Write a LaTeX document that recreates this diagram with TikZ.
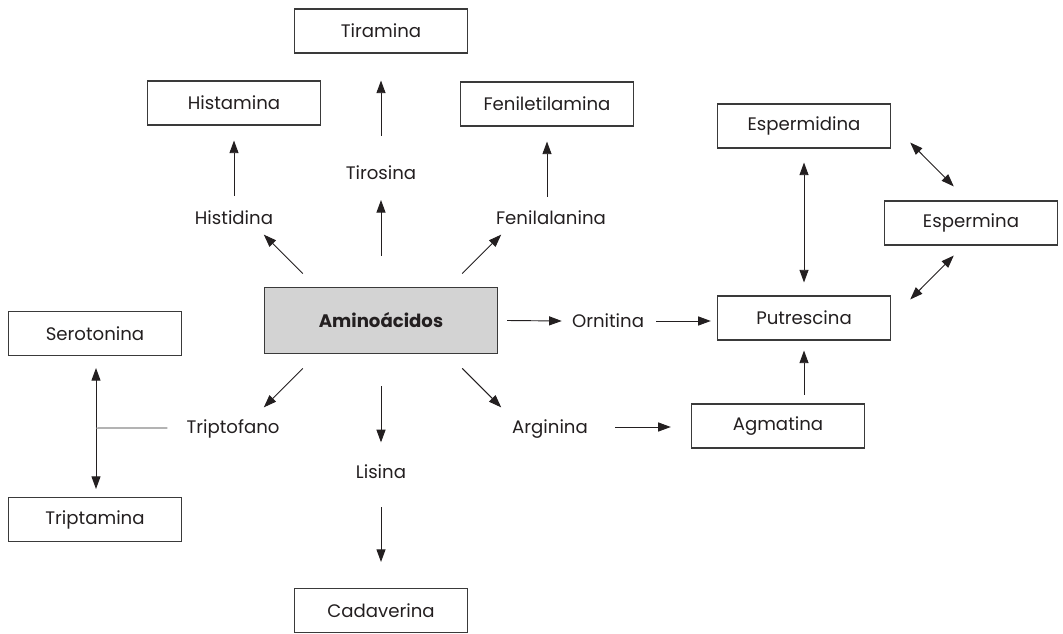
\documentclass[tikz,border=0pt]{standalone}
\usepackage{fontspec}
\setmainfont{Poppins}
\usetikzlibrary{arrows.meta,calc}
\definecolor{ink}{HTML}{231F20}
\definecolor{frame}{HTML}{3A3A3A}
\definecolor{boxgray}{HTML}{D3D3D3}
\definecolor{linegray}{HTML}{8A8A8A}
\begin{document}
\begin{tikzpicture}[x=0.75pt,y=-0.75pt,
  every node/.style={text=ink, font=\fontsize{13.6}{16}\selectfont},
  box/.style={draw=frame, line width=0.8pt, minimum width=130pt, minimum height=33pt, inner sep=0pt},
  mainbox/.style={box, fill=boxgray, minimum width=175pt, minimum height=50pt},
  lbl/.style={inner sep=0pt, text height=9.6pt, text depth=0pt},
  arr/.style={-{Triangle[length=9.5pt,width=6.8pt]}, line width=0.7pt, draw=ink},
  darr/.style={{Triangle[length=9.5pt,width=6.8pt]}-{Triangle[length=9.5pt,width=6.8pt]}, line width=0.7pt, draw=ink}]
\useasboundingbox (0,0) rectangle (1063,634);

% central node
\node[mainbox] (amino) at (381,320.5) {\bfseries Aminoácidos};

% end products
\node[box] (tiramina) at (381,31) {Tiramina};
\node[box] (histamina) at (234,103) {Histamina};
\node[box] (feniletil) at (547,104) {Feniletilamina};
\node[box] (espermidina) at (804,126) {Espermidina};
\node[box] (espermina) at (971,223) {Espermina};
\node[box] (serotonina) at (95,333.5) {Serotonina};
\node[box] (putrescina) at (804,318) {Putrescina};
\node[box] (agmatina) at (778,426) {Agmatina};
\node[box] (triptamina) at (95,519.5) {Triptamina};
\node[box] (cadaverina) at (381,610.5) {Cadaverina};

% amino acids
\node[lbl] (histidina) at (234,218) {Histidina};
\node[lbl] (tirosina) at (381,173) {Tirosina};
\node[lbl] (fenilala) at (551,218) {Fenilalanina};
\node[lbl] (ornitina) at (608,321) {Ornitina};
\node[lbl] (triptofano) at (233,427) {Triptofano};
\node[lbl] (lisina) at (381,472) {Lisina};
\node[lbl] (arginina) at (550,427) {Arginina};

% amino acids -> products
\draw[arr] ($(histidina)+(0,-22)$) -- ($(histamina.south)+(0,15)$);
\draw[arr] ($(tirosina)+(0,-37)$) -- ($(tiramina.south)+(0,27)$);
\draw[arr] ($(feniletil.south)+(0,70)$) -- ($(feniletil.south)+(0,15)$);

% Aminoácidos -> amino acids
\draw[arr] ($(amino.north west)+(39,-13)$) -- ($(amino.north west)+(0,-52)$);
\draw[arr] ($(amino.north)+(0,-31)$) -- ($(tirosina)+(0,27)$);
\draw[arr] ($(amino.north east)+(-36,-13)$) -- ($(amino.north east)+(3,-52)$);
\draw[arr] ($(amino.east)+(9,0)$) -- ($(ornitina.west)+(-10,0)$);
\draw[arr] ($(amino.south west)+(39,14)$) -- ($(amino.south west)+(0,53)$);
\draw[arr] ($(amino.south)+(0,32)$) -- ($(amino.south)+(0,88)$);
\draw[arr] ($(amino.south east)+(-36,14)$) -- ($(amino.south east)+(3,53)$);

% further conversions
\draw[arr] ($(ornitina.east)+(12,0)$) -- ($(putrescina.west)+(-6,3)$);
\draw[arr] ($(lisina)+(0,35)$) -- ($(cadaverina.north)+(0,-26)$);
\draw[arr] ($(arginina.east)+(27,0)$) -- ($(agmatina.west)+(-20,1)$);
\draw[arr] ($(putrescina.south)+(0,54)$) -- ($(putrescina.south)+(0,10)$);

% polyamine interconversions
\draw[darr] ($(putrescina.north)+(0,-13)$) -- ($(espermidina.south)+(0,14)$);
\draw[darr] ($(espermidina.south east)+(19,-6)$) -- ($(espermina.north west)+(70,-14)$);
\draw[darr] ($(espermina.south west)+(70,10)$) -- ($(putrescina.north east)+(19,4)$);

% tryptophan branch
\draw[darr] ($(serotonina.south)+(1,12)$) coordinate (sero) -- ($(triptamina.north)+(1,-8)$);
\coordinate (branch) at ($(serotonina.south)+(1,72)$);
\draw[linegray, line width=0.8pt] ($(triptofano.west)+(-19,1)$) -- (branch);
\end{tikzpicture}
\end{document}
